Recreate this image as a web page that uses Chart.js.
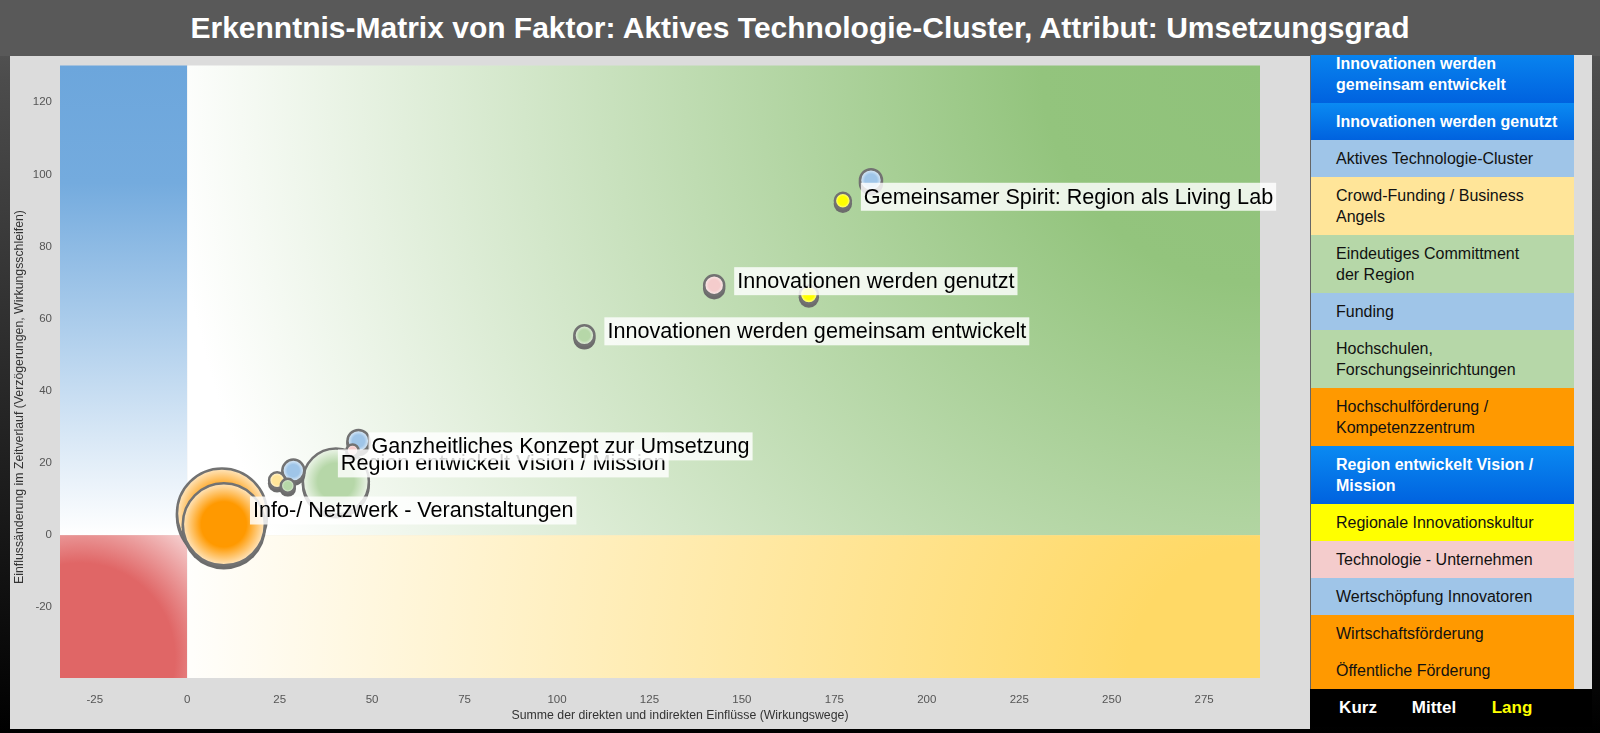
<!DOCTYPE html>
<html>
<head>
<meta charset="utf-8">
<script src="https://cdn.jsdelivr.net/npm/chart.js@4.4.1/dist/chart.umd.min.js"></script>
<style>
  html, body { margin: 0; padding: 0; }
  body {
    width: 1600px; height: 733px; overflow: hidden; position: relative;
    background: linear-gradient(#5a5a5a 0px, #4c4c4c 80px, #000 733px);
    font-family: "Liberation Sans", Arial, sans-serif;
  }
  #title {
    position: absolute; left: 0; top: 0; width: 1600px; height: 56px;
    line-height: 56px; text-align: center; color: #fff; font-weight: bold;
    font-size: 30px; background: #595959;
  }
  #panel { position: absolute; left: 10px; top: 56px; width: 1300px; height: 673px; background: #dcdcdc; }
  /* the canvas reaches above the panel: Chart.js keeps room for the largest bubble at the top */
  #chart { position: absolute; left: 10px; top: 18px; }
  #legend {
    position: absolute; left: 1310px; top: 55px; width: 281px; height: 634px;
    background: #dcdcdc; border-left: 1px solid #666; overflow: hidden;
  }
  #legendList { margin-top: -10px; width: 263px; }
  .item {
    padding: 8px 2px 8px 25px; font-size: 16px; line-height: 21px;
    color: #111; white-space: pre;
  }
  .item.hl { color: #fff; font-weight: bold; background: linear-gradient(#0a8af2, #0062df); }
  #footer {
    position: absolute; left: 1310px; top: 689px; width: 282px; height: 38px;
    background: #000;
  }
  #footer span {
    position: absolute; top: 9px; transform: translateX(-50%);
    font-size: 17px; font-weight: bold; color: #fff;
  }
</style>
</head>
<body>
<div id="title">Erkenntnis-Matrix von Faktor: Aktives Technologie-Cluster, Attribut: Umsetzungsgrad</div>
<div id="panel"></div>
<canvas id="chart" width="1300" height="711"></canvas>
<div id="legend"><div id="legendList"></div></div>
<div id="footer">
  <span style="left:48px">Kurz</span>
  <span style="left:124px">Mittel</span>
  <span style="left:202px;color:#ffff00">Lang</span>
</div>

<script>
// ------------------------------------------------------------
// DATA
// ------------------------------------------------------------
const names = [
  "Gemeinsamer Spirit: Region als Living Lab",
  "Aktives Technologie-Cluster",
  "Innovationen werden genutzt",
  "Regionale Innovationskultur",
  "Innovationen werden gemeinsam entwickelt",
  "Wertschöpfung Innovatoren",
  "Region entwickelt Vision / Mission",
  "Ganzheitliches Konzept zur Umsetzung",
  "Funding",
  "Crowd-Funding / Business Angels",
  "Eindeutiges Committment der Region",
  "Info-/ Netzwerk - Veranstaltungen",
  "Hochschulförderung / Kompetenzzentrum"
];
const xValues = [177.3, 184.9, 142.5, 168.1, 107.4, 46.3, 40.2, 44.7, 28.7, 24.3, 27.2, 9.4, 9.9];
const yValues = [92.7, 98.4, 69.3, 66.7, 55.4, 26.1, 14.9, 23.5, 17.9, 15.2, 13.7, 6.0, 3.0];
const sizes = [8, 11, 10, 9, 10, 11, 33, 6, 11, 8, 7, 45, 41];
const colors = ["#ffff00", "#9fc5e8", "#f4cccc", "#ffff00", "#b6d7a8", "#9fc5e8", "#b6d7a8",
                "#f4cccc", "#9fc5e8", "#ffe599", "#b6d7a8", "#ff9900", "#ff9900"];
const labeled = [true, false, true, false, true, false, true, true, false, false, false, true, false];

const xTicks = [-25, 0, 25, 50, 75, 100, 125, 150, 175, 200, 225, 250, 275];
const yTicks = [-20, 0, 20, 40, 60, 80, 100, 120];

const legendNames = [
  "Innovationen werden\ngemeinsam entwickelt",
  "Innovationen werden genutzt",
  "Aktives Technologie-Cluster",
  "Crowd-Funding / Business\nAngels",
  "Eindeutiges Committment\nder Region",
  "Funding",
  "Hochschulen,\nForschungseinrichtungen",
  "Hochschulförderung /\nKompetenzzentrum",
  "Region entwickelt Vision /\nMission",
  "Regionale Innovationskultur",
  "Technologie - Unternehmen",
  "Wertschöpfung Innovatoren",
  "Wirtschaftsförderung",
  "Öffentliche Förderung"
];
const legendColors = ["hl", "hl", "#9fc5e8", "#ffe599", "#b6d7a8", "#9fc5e8", "#b6d7a8",
                      "#ff9900", "hl", "#ffff00", "#f4cccc", "#9fc5e8", "#ff9900", "#ff9900"];

const xTitle = "Summe der direkten und indirekten Einflüsse (Wirkungswege)";
const yTitle = "Einflussänderung im Zeitverlauf (Verzögerungen, Wirkungsschleifen)";

// ------------------------------------------------------------
// LEGEND (HTML list)
// ------------------------------------------------------------
const list = document.getElementById("legendList");
legendNames.forEach((n, i) => {
  const d = document.createElement("div");
  d.className = "item" + (legendColors[i] === "hl" ? " hl" : "");
  if (legendColors[i] !== "hl") d.style.background = legendColors[i];
  d.textContent = n;
  list.appendChild(d);
});

// ------------------------------------------------------------
// HELPERS
// ------------------------------------------------------------
const FONT = "'Liberation Sans', Arial, sans-serif";

function lighten(hex, k) {
  const n = parseInt(hex.slice(1), 16);
  const r = (n >> 16) & 255, g = (n >> 8) & 255, b = n & 255;
  const m = c => Math.round(c + (255 - c) * k);
  return `rgb(${m(r)},${m(g)},${m(b)})`;
}

function bubbleFill(ctx, i) {
  const chart = ctx.chart;
  if (!chart.chartArea || ctx.type !== "data") return colors[i];
  const px = chart.scales.x.getPixelForValue(ctx.raw.x);
  const py = chart.scales.y.getPixelForValue(ctx.raw.y);
  const g = chart.ctx.createRadialGradient(px, py, 0, px, py, ctx.raw.r);
  g.addColorStop(0, colors[i]);
  g.addColorStop(0.55, colors[i]);
  g.addColorStop(1, lighten(colors[i], 0.75));
  return g;
}

// label nudges for the two big bubbles (px)
const LABEL_NUDGE = { 6: [-41, -14], 11: [-27, 1] };

// ------------------------------------------------------------
// PLUGINS
// ------------------------------------------------------------
const quadrants = {
  id: "quadrants",
  beforeDatasetsDraw(chart) {
    const { ctx, chartArea: a, scales } = chart;
    const x0 = scales.x.getPixelForValue(0);
    const y0 = scales.y.getPixelForValue(0);
    ctx.save();

    // blue: x<0, y>0
    let g = ctx.createLinearGradient(0, a.top, 0, y0);
    g.addColorStop(0, "#6ca6dc");
    g.addColorStop(0.25, "#74abde");
    g.addColorStop(1, "#ffffff");
    ctx.fillStyle = g;
    ctx.fillRect(a.left, a.top, x0 - a.left, y0 - a.top);

    // red: x<0, y<0
    g = ctx.createRadialGradient(a.left + 20, a.bottom - 20, 0, a.left + 20, a.bottom - 20, 190);
    g.addColorStop(0, "#e06666");
    g.addColorStop(0.5, "#e06666");
    g.addColorStop(1, "#ffffff");
    ctx.fillStyle = g;
    ctx.fillRect(a.left, y0, x0 - a.left, a.bottom - y0);

    const w = (a.right - x0) * 1.02;
    // green: x>0, y>0
    g = ctx.createRadialGradient(a.right, a.top, 0, a.right, a.top, w);
    g.addColorStop(0, "#8fc27a");
    g.addColorStop(0.2, "#93c47d");
    g.addColorStop(1, "#ffffff");
    ctx.fillStyle = g;
    ctx.fillRect(x0, a.top, a.right - x0, y0 - a.top);

    // yellow: x>0, y<0
    g = ctx.createRadialGradient(a.right, a.bottom, 0, a.right, a.bottom, w);
    g.addColorStop(0, "#ffd966");
    g.addColorStop(0.12, "#ffd966");
    g.addColorStop(1, "#ffffff");
    ctx.fillStyle = g;
    ctx.fillRect(x0, y0, a.right - x0, a.bottom - y0);

    ctx.restore();
  },
  beforeDatasetDraw(chart, args) {
    const ctx = chart.ctx;
    ctx.save();
    ctx.fillStyle = "#6c6c6c";
    args.meta.data.forEach(el => {
      ctx.beginPath();
      ctx.arc(el.x, el.y + 3, el.options.radius + 1.2, 0, Math.PI * 2);
      ctx.fill();
    });
    ctx.restore();
  },
  afterDraw(chart) {
    const ctx = chart.ctx;
    ctx.save();
    // bubble labels
    ctx.font = "21.6px " + FONT;
    ctx.textBaseline = "middle";
    names.forEach((n, i) => {
      if (!labeled[i]) return;
      const el = chart.getDatasetMeta(i).data[0];
      const nd = LABEL_NUDGE[i] || [0, 0];
      const left = el.x + sizes[i] + 10 + nd[0];
      const cy = el.y - 4 + nd[1];
      const w = ctx.measureText(n).width + 6;
      ctx.fillStyle = "rgba(255,255,255,0.82)";
      ctx.fillRect(left, cy - 14, w, 28);
      ctx.fillStyle = "#000";
      ctx.fillText(n, left + 3, cy + 1);
    });
    // axis titles
    ctx.font = "12.3px " + FONT;
    ctx.fillStyle = "#333";
    ctx.textAlign = "center";
    ctx.fillText(xTitle, 670, 698);
    ctx.translate(10, 379);
    ctx.rotate(-Math.PI / 2);
    ctx.fillText(yTitle, 0, 0);
    ctx.restore();
  }
};

// ------------------------------------------------------------
// CHART
// ------------------------------------------------------------
const useTicks = values => s => { s.ticks = values.map(v => ({ value: v })); };

const chart = new Chart(document.getElementById("chart").getContext("2d"), {
  type: "bubble",
  data: {
    datasets: names.map((n, i) => ({
      label: n,
      data: [{ x: xValues[i], y: yValues[i], r: sizes[i] }],
      backgroundColor: ctx => bubbleFill(ctx, i),
      borderColor: "#727272",
      borderWidth: 2.5,
      order: sizes[i]
    }))
  },
  options: {
    responsive: false,
    devicePixelRatio: 1,
    animation: false,
    layout: { padding: { top: 0, right: 50, left: 0, bottom: 0 } },
    plugins: { legend: { display: false }, tooltip: { enabled: false } },
    scales: {
      x: {
        type: "linear", min: -34.4, max: 290.1,
        grid: { display: false }, border: { display: false },
        ticks: { color: "#555", padding: 7, maxRotation: 0, autoSkip: false, font: { size: 11.5, family: FONT } },
        afterBuildTicks: useTicks(xTicks),
        afterFit: s => { s.height = 51; s.paddingLeft = 0; s.paddingRight = 0; }
      },
      y: {
        type: "linear", min: -39.6, max: 130.2,
        grid: { display: false }, border: { display: false },
        ticks: { color: "#555", padding: 0, autoSkip: false, font: { size: 11.5, family: FONT } },
        afterBuildTicks: useTicks(yTicks),
        afterFit: s => { s.width = 50; s.paddingTop = 0; s.paddingBottom = 0; }
      }
    }
  },
  plugins: [quadrants]
});
</script>
</body>
</html>
